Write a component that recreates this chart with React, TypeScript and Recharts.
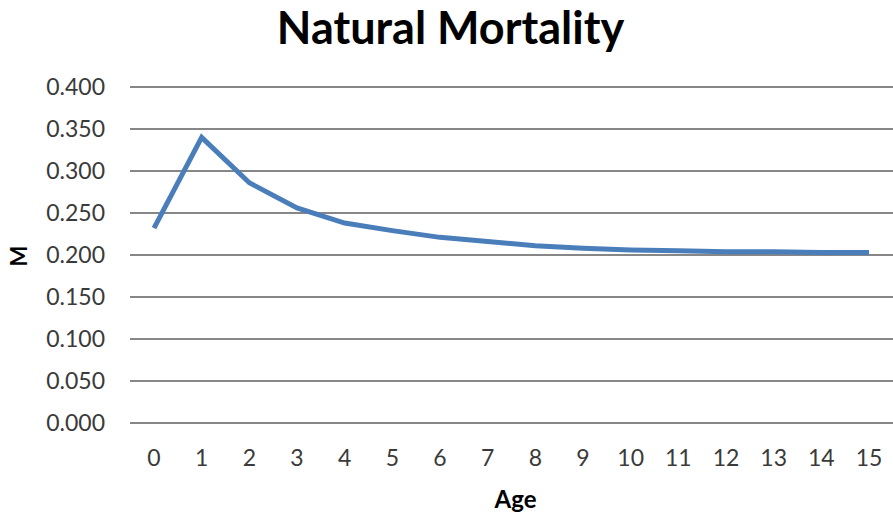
import React from 'react';
import { LineChart, Line, XAxis, YAxis, CartesianGrid } from 'recharts';

const ages = [0, 1, 2, 3, 4, 5, 6, 7, 8, 9, 10, 11, 12, 13, 14, 15];
const mortality = [
  0.232, 0.34, 0.286, 0.256, 0.238, 0.229, 0.221, 0.216, 0.211, 0.208, 0.206, 0.205, 0.204,
  0.204, 0.203, 0.203,
];
const yTicks = [0, 0.05, 0.1, 0.15, 0.2, 0.25, 0.3, 0.35, 0.4];

const data = ages.map((age, i) => ({ age: String(age), m: mortality[i] }));

const FONT = 'Lato, "Open Sans", sans-serif';
const GRID = '#878787';
const TEXT = '#3a3a3a';

export default function App() {
  return (
    <div style={{ position: 'absolute', left: 0, top: 0, width: 893, height: 518, background: '#fff', fontFamily: FONT }}>
      <LineChart width={893} height={518} data={data} margin={{ top: 87, right: 0, left: 0, bottom: 0 }}>
        <CartesianGrid vertical={false} stroke={GRID} strokeWidth={2} />
        <XAxis
          dataKey="age"
          height={95}
          padding={{ left: 24, right: 24 }}
          axisLine={false}
          tickLine={false}
          tickSize={0}
          tickMargin={27}
          interval={0}
          tick={{ fill: TEXT, fontSize: 23, fontFamily: FONT }}
        />
        <YAxis
          width={130}
          domain={[0, 0.4]}
          ticks={yTicks}
          interval={0}
          tickFormatter={(v: number) => v.toFixed(3)}
          axisLine={false}
          tickLine={false}
          tickSize={0}
          tickMargin={25}
          tick={{ fill: TEXT, fontSize: 23, fontFamily: FONT }}
        />
        <Line
          type="linear"
          dataKey="m"
          stroke="#4a7ebb"
          strokeWidth={5}
          dot={false}
          activeDot={false}
          isAnimationActive={false}
        />
      </LineChart>
      <div
        style={{
          position: 'absolute',
          left: 0,
          top: 0,
          width: 901,
          textAlign: 'center',
          fontSize: 45,
          fontWeight: 700,
          color: '#000',
          lineHeight: 1.2,
        }}
      >
        Natural Mortality
      </div>
      <div
        style={{
          position: 'absolute',
          left: 18.5,
          top: 256,
          transform: 'translate(-50%, -50%) rotate(-90deg)',
          fontSize: 22,
          fontWeight: 700,
          color: '#000',
          lineHeight: 1.2,
        }}
      >
        M
      </div>
      <div
        style={{
          position: 'absolute',
          left: 515.5,
          top: 499,
          transform: 'translate(-50%, -50%)',
          fontSize: 24,
          fontWeight: 700,
          color: '#000',
          lineHeight: 1.2,
        }}
      >
        Age
      </div>
    </div>
  );
}
